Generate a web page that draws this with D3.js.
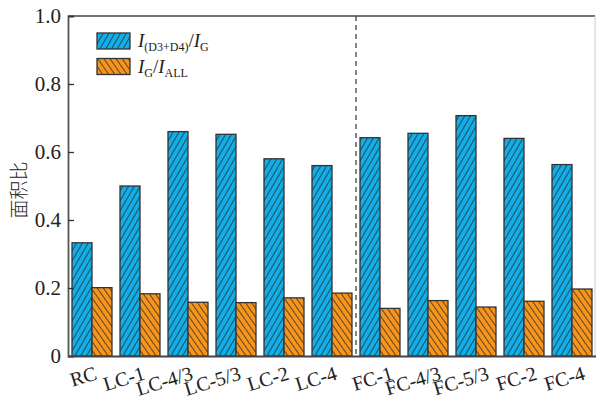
<!DOCTYPE html>
<html lang="en">
<head>
<meta charset="UTF-8">
<title>面积比</title>
<script src="https://d3js.org/d3.v7.min.js"></script>
<style>
  body { margin: 0; background: #fff; }
  svg text { font-family: "Liberation Serif", "DejaVu Serif", serif; fill: #222; }
</style>
</head>
<body>
<svg id="chart"></svg>
<script>
const categories = ["RC", "LC-1", "LC-4/3", "LC-5/3", "LC-2", "LC-4", "FC-1", "FC-4/3", "FC-5/3", "FC-2", "FC-4"];
const ratioD34 = [0.333, 0.500, 0.660, 0.652, 0.580, 0.560, 0.642, 0.655, 0.707, 0.640, 0.563];
const ratioG = [0.201, 0.183, 0.158, 0.157, 0.171, 0.185, 0.140, 0.163, 0.144, 0.161, 0.197];
const yTicks = [0, 0.2, 0.4, 0.6, 0.8, 1.0];
const seriesKeys = ["d34", "g"];

const width = 596, height = 401;
const plotLeft = 68, plotRight = 596, plotTop = 16, plotBottom = 356;
const blue = "#12aee8", orange = "#f7941d", edge = "#333";
const serif = "'Liberation Serif', 'DejaVu Serif', serif";

const svg = d3.select("#chart").attr("width", width).attr("height", height);

// hatch patterns
const defs = svg.append("defs");
function hatch(id, color, dir) {
  const p = defs.append("pattern")
    .attr("id", id)
    .attr("patternUnits", "userSpaceOnUse")
    .attr("width", 5).attr("height", 5)
    .attr("patternTransform", `rotate(${dir})`);
  p.append("rect").attr("width", 5).attr("height", 5).attr("fill", color);
  p.append("line").attr("x1", 0).attr("y1", 0).attr("x2", 0).attr("y2", 5)
    .attr("stroke", "#2a2a2a").attr("stroke-width", 1.5);
}
hatch("hBlue", blue, 30);
hatch("hOrange", orange, -35);
const fills = { d34: "url(#hBlue)", g: "url(#hOrange)" };

const x = d3.scaleBand().domain(categories).range([plotLeft, plotRight])
  .paddingInner(1 / 6).paddingOuter(1 / 12);
const xs = d3.scaleBand().domain(seriesKeys).range([0, x.bandwidth()]);
const y = d3.scaleLinear().domain([0, 1]).range([plotBottom, plotTop]);

const rows = categories.map((c, i) => ({ cat: c, d34: ratioD34[i], g: ratioG[i] }));

// bars
const groups = svg.append("g").selectAll("g").data(rows).join("g")
  .attr("transform", d => `translate(${x(d.cat)},0)`);
groups.selectAll("rect")
  .data(d => seriesKeys.map(k => ({ key: k, value: d[k] })))
  .join("rect")
  .attr("x", d => xs(d.key))
  .attr("y", d => y(d.value))
  .attr("width", xs.bandwidth())
  .attr("height", d => y(0) - y(d.value))
  .attr("fill", d => fills[d.key])
  .attr("stroke", edge)
  .attr("stroke-width", 1.3);

// dashed separator between LC and FC groups
const sepX = (x("LC-4") + x.bandwidth() + x("FC-1")) / 2;
svg.append("line")
  .attr("x1", sepX).attr("x2", sepX)
  .attr("y1", y(1)).attr("y2", y(0))
  .attr("stroke", "#333").attr("stroke-width", 1.2)
  .attr("stroke-dasharray", "5,4");

// frame
svg.append("line").attr("x1", plotLeft).attr("x2", plotRight - 1).attr("y1", plotTop).attr("y2", plotTop)
  .attr("stroke", "#444").attr("stroke-width", 1.5);
svg.append("line").attr("x1", plotRight - 1).attr("x2", plotRight - 1).attr("y1", plotTop).attr("y2", plotBottom)
  .attr("stroke", "#ccc").attr("stroke-width", 1);

// y axis
const yAxis = svg.append("g").attr("transform", `translate(${plotLeft},0)`)
  .call(d3.axisLeft(y).tickValues(yTicks).tickSize(-6).tickPadding(7)
    .tickFormat(d => d === 0 ? "0" : d3.format(".1f")(d)));
yAxis.attr("font-family", null);
yAxis.select(".domain").attr("stroke", "#555").attr("stroke-width", 1.8);
yAxis.selectAll(".tick line").attr("stroke", "#333").attr("stroke-width", 1.3);
yAxis.selectAll("text").style("font-family", serif).style("font-size", "21px").attr("fill", "#222");

// x axis, labels tilted and anchored at their end
const xAxis = svg.append("g").attr("transform", `translate(0,${plotBottom})`)
  .call(d3.axisBottom(x).tickSize(0).tickPadding(0));
xAxis.attr("font-family", null);
xAxis.select(".domain").attr("stroke", "#444").attr("stroke-width", 1.8);
xAxis.selectAll("text")
  .style("font-family", serif)
  .style("font-size", "20px")
  .attr("fill", "#222")
  .attr("text-anchor", "end")
  .attr("y", 0)
  .attr("dy", 0)
  .attr("transform", d => `translate(${d.startsWith("FC") ? 14 : 6},23) rotate(-17)`);

// y label
svg.append("text")
  .attr("transform", "translate(26,190) rotate(-90)")
  .attr("text-anchor", "middle")
  .style("font-family", "'Noto Sans CJK SC', sans-serif")
  .style("font-size", "19px")
  .style("font-weight", 300)
  .attr("fill", "#333")
  .text("面积比");

// legend
const legend = svg.append("g").attr("transform", "translate(97,33)");
const legendItems = [
  { key: "d34", parts: [["I", "i"], ["(D3+D4)", "s"], ["/", "n"], ["I", "i"], ["G", "s"]] },
  { key: "g", parts: [["I", "i"], ["G", "s"], ["/", "n"], ["I", "i"], ["ALL", "s"]] }
];
legendItems.forEach((item, i) => {
  const g = legend.append("g").attr("transform", `translate(0,${i * 25.5})`);
  g.append("rect").attr("width", 33).attr("height", 16)
    .attr("fill", fills[item.key]).attr("stroke", edge).attr("stroke-width", 1.3);
  const t = g.append("text").attr("x", 41).attr("y", 14).style("font-size", "19px");
  let sub = false;
  item.parts.forEach(([s, kind]) => {
    const ts = t.append("tspan").text(s);
    if (kind === "i") ts.style("font-style", "italic");
    if (kind === "s") {
      ts.style("font-size", "12px").attr("dy", sub ? 0 : 4);
      sub = true;
    } else {
      ts.attr("dy", sub ? -4 : 0);
      sub = false;
    }
  });
});
</script>
</body>
</html>
